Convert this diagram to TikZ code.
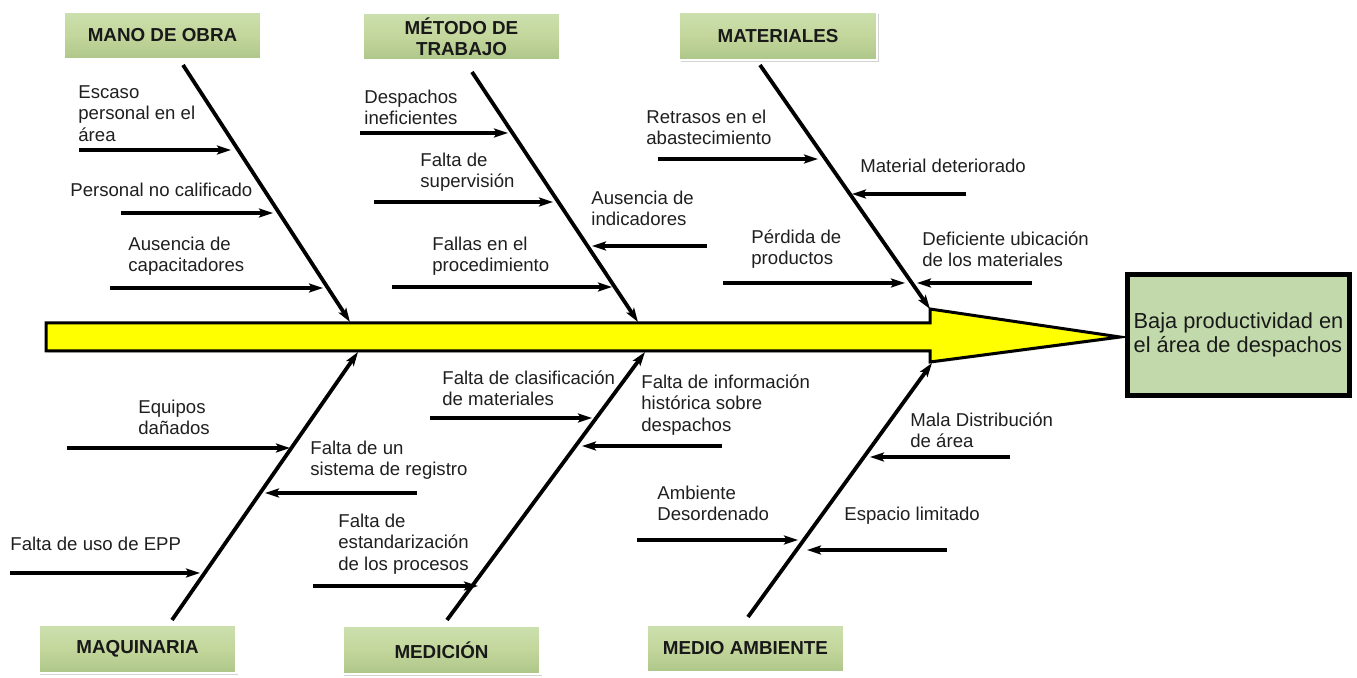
\documentclass[tikz,border=0pt]{standalone}
\usepackage{fontspec}
\setmainfont{Liberation Sans}
\usetikzlibrary{arrows.meta,shadows}
\definecolor{catgreen}{HTML}{C3D69B}
\definecolor{catTop}{HTML}{CCE0AF}
\definecolor{catBot}{HTML}{AEC689}
\definecolor{effgreen}{HTML}{C2DAAB}
\definecolor{spineyellow}{HTML}{FFFF00}
\newcommand\causearrow[4]{%
  \coordinate (#1s) at (#2,#4);
  \coordinate (#1e) at (#3,#4);
  \draw[subarrow] (#1s) -- (#1e);}
\begin{document}
\begin{tikzpicture}[x=0.5pt,y=-0.5pt,
  cat/.style={draw=white, line width=1.2pt, top color=catTop, bottom color=catBot, middle color=catgreen,
    minimum width=99pt, minimum height=24pt, inner sep=1pt,
    font=\fontsize{9.4}{10.4}\selectfont\bfseries, align=center, text=black!90,
    drop shadow={shadow xshift=0.8pt, shadow yshift=-0.8pt, opacity=0.35}},
  lbl/.style={font=\fontsize{9.3}{10.6}\selectfont, align=left, anchor=west, inner sep=0pt, text=black!88},
  bonearrow/.style={line width=1.9pt, -{Stealth[length=7pt,width=4.5pt,inset=1.5pt]}},
  subarrow/.style={line width=1.9pt, -{Stealth[length=7pt,width=4.5pt,inset=1.5pt]}},
]
\useasboundingbox (0,0) rectangle (1357,678);

% spine
\path[draw=black, line width=1.5pt, fill=spineyellow, line join=miter,
  drop shadow={shadow xshift=0.8pt, shadow yshift=-0.8pt, opacity=0.3}]
  (46,323) -- (930,323) -- (930,309) -- (1120,337) -- (930,362) -- (930,351) -- (46,351) -- cycle;

% effect
\node[draw=black, line width=2.5pt, fill=effgreen, minimum width=111pt, minimum height=60.5pt,
  font=\fontsize{10.9}{12.2}\selectfont, align=left, text=black!90, inner sep=2pt] (eff) at (1238.5,335)
  {Baja productividad en\\el área de despachos};

% categories
\node[cat] (mano) at (162.5,35.5) {MANO DE OBRA};
\node[cat] (metodo) at (461.5,36.5) {MÉTODO DE\\TRABAJO};
\node[cat] (mat) at (778,36) {MATERIALES};
\node[cat] (maq) at (137.5,649) {MAQUINARIA};
\node[cat] (med) at (441.5,650) {MEDICIÓN};
\node[cat] (amb) at (745.5,648.5) {MEDIO AMBIENTE};

% bones
\coordinate (manoS) at (183,65);   \coordinate (manoE) at (350,322);
\coordinate (metS) at (472,72);    \coordinate (metE) at (638,322);
\coordinate (matS) at (760,65);    \coordinate (matE) at (930,309);
\coordinate (maqS) at (172,620);   \coordinate (maqE) at (358,352);
\coordinate (medS) at (447,620);   \coordinate (medE) at (645,352);
\coordinate (ambS) at (748,617);   \coordinate (ambE) at (932,363);
\draw[bonearrow] (manoS) -- (manoE);
\draw[bonearrow] (metS) -- (metE);
\draw[bonearrow] (matS) -- (matE);
\draw[bonearrow] (maqS) -- (maqE);
\draw[bonearrow] (medS) -- (medE);
\draw[bonearrow] (ambS) -- (ambE);

% sub causes
\causearrow{a1}{79}{231}{150}
\causearrow{a2}{121}{273}{213}
\causearrow{a3}{110}{323}{288}
\causearrow{b1}{360}{508}{133}
\causearrow{b2}{374}{553}{202}
\causearrow{b3}{392}{612}{287}
\causearrow{b4}{707}{592}{246}
\causearrow{c1}{658}{818}{159}
\causearrow{c2}{966}{852}{194}
\causearrow{c3}{723}{905}{283}
\causearrow{c4}{1032}{917}{283}
\causearrow{d1}{67}{290}{448}
\causearrow{d2}{417}{265}{493}
\causearrow{d3}{10}{200}{573}
\causearrow{e1}{430}{592}{418}
\causearrow{e2}{722}{582}{446}
\causearrow{e3}{313}{478}{586}
\causearrow{f1}{1010}{870}{457}
\causearrow{f2}{637}{798}{540}
\causearrow{f3}{947}{807}{550}

% labels
\node[lbl] (t1) at (78,113.5) {Escaso\\personal en el\\área};
\node[lbl] (t2) at (70,190) {Personal no calificado};
\node[lbl] (t3) at (128,256) {Ausencia de\\capacitadores};
\node[lbl] (t4) at (364,107) {Despachos\\ineficientes};
\node[lbl] (t5) at (420,172) {Falta de\\supervisión};
\node[lbl] (t6) at (432,256) {Fallas en el\\procedimiento};
\node[lbl] (t7) at (591,208) {Ausencia de\\indicadores};
\node[lbl] (t8) at (646,127) {Retrasos en el\\abastecimiento};
\node[lbl] (t9) at (860,166) {Material deteriorado};
\node[lbl] (t10) at (751,249) {Pérdida de\\productos};
\node[lbl] (t11) at (922,249) {Deficiente ubicación\\de los materiales};
\node[lbl] (t12) at (138,417) {Equipos\\dañados};
\node[lbl] (t13) at (310,460.5) {Falta de un\\sistema de registro};
\node[lbl] (t14) at (10,544) {Falta de uso de EPP};
\node[lbl] (t15) at (442,388) {Falta de clasificación\\de materiales};
\node[lbl] (t16) at (641,405) {Falta de información\\histórica sobre\\despachos};
\node[lbl] (t17) at (338,544) {Falta de\\estandarización\\de los procesos};
\node[lbl] (t18) at (910,430) {Mala Distribución\\de área};
\node[lbl] (t19) at (657,503) {Ambiente\\Desordenado};
\node[lbl] (t20) at (844,516) {Espacio limitado};
\end{tikzpicture}
\end{document}
